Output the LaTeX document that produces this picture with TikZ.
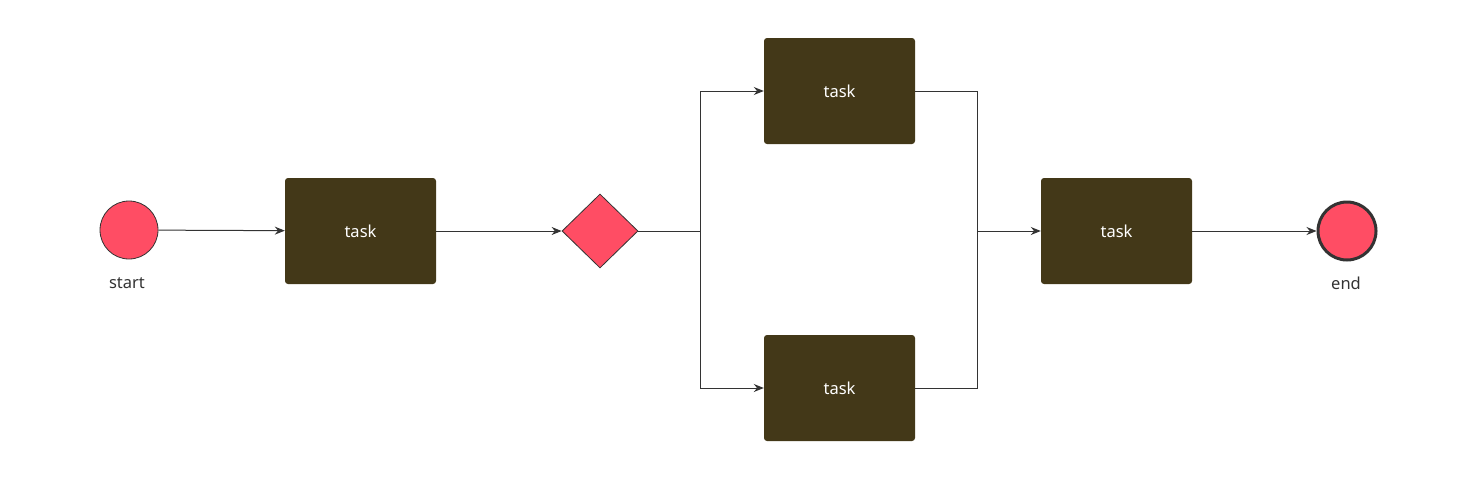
\documentclass[tikz,border=0pt]{standalone}
\usepackage{fontspec}
\setmainfont{Noto Sans}
\usetikzlibrary{shapes.geometric,arrows.meta}
\definecolor{red1}{HTML}{FF4D64}
\definecolor{brn}{HTML}{433818}
\definecolor{ln}{HTML}{333333}
\begin{document}
\begin{tikzpicture}[x=1pt,y=-1pt,
 task/.style={draw=none,fill=brn,rounded corners=3pt,minimum width=151pt,minimum height=106pt,text=white,font=\fontsize{16.5}{20}\selectfont},
 ev/.style={circle,fill=red1,draw=ln,minimum size=58pt,inner sep=0pt},
 lbl/.style={font=\fontsize{16.5}{20}\selectfont,text=ln},
 arr/.style={draw=ln,line width=1pt,-{Stealth[length=10pt,width=8pt]}},
 ln/.style={draw=ln,line width=1pt}]
\useasboundingbox (0,0) rectangle (1474,477);
\node[ev,line width=0.8pt] (s) at (129,230) {};
\node[lbl] (sl) at (127,283) {start};
\node[task] (t1) at (360.5,231) {task};
\node[diamond,fill=red1,draw=ln,line width=0.8pt,minimum width=76pt,minimum height=74pt,inner sep=0pt] (g) at (600,231) {};
\node[task] (t2) at (839.5,91) {task};
\node[task] (t3) at (839.5,388) {task};
\node[task] (t4) at (1116.5,231) {task};
\node[ev,line width=3pt,minimum size=58pt] (e) at (1347,231) {};
\node[lbl] (el) at (1346,283) {end};
\coordinate (b) at (700,231);
\coordinate (m) at (977,231);
\draw[arr] (s) -- (t1);
\draw[arr] (t1) -- (g);
\draw[ln] (g) -- (b);
\draw[arr] (b) |- (t2);
\draw[arr] (b) |- (t3);
\draw[ln] (t2.east) -| (m);
\draw[ln] (t3.east) -| (m);
\draw[arr] (m) -- (t4);
\draw[arr] (t4) -- (e);
\end{tikzpicture}
\end{document}
